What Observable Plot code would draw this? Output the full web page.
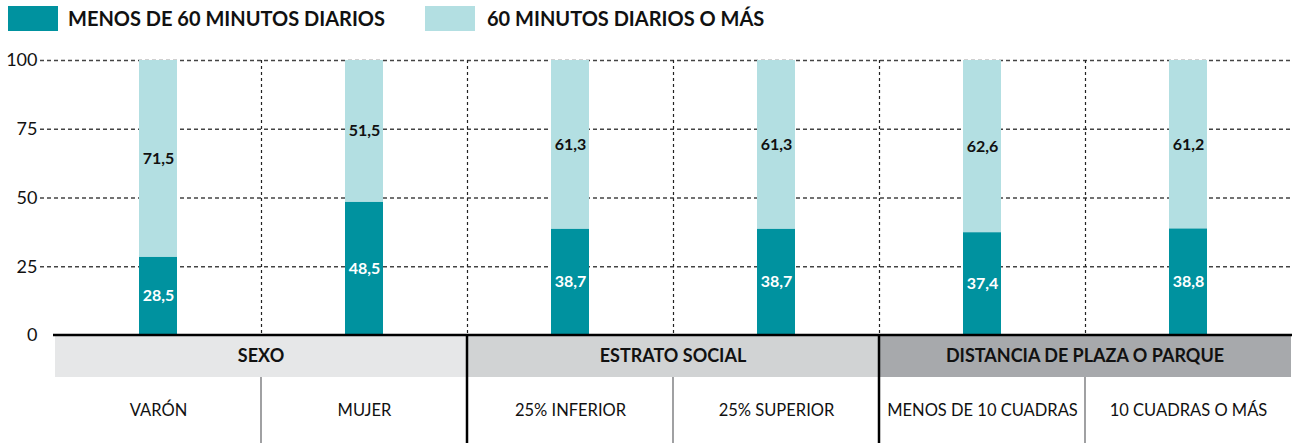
<!DOCTYPE html>
<html>
<head>
<meta charset="utf-8">
<script src="https://cdn.jsdelivr.net/npm/d3@7"></script>
<script src="https://cdn.jsdelivr.net/npm/@observablehq/plot@0.6"></script>
<style>
  html, body { margin: 0; padding: 0; background: #fff; }
  body { width: 1292px; height: 443px; overflow: hidden; font-family: Lato, "Open Sans", sans-serif; }
  #legend { position: relative; height: 40px; }
  .sw { position: absolute; top: 6px; width: 50px; height: 25px; }
  .lt { position: absolute; top: 6px; font-size: 20px; font-weight: 700; color: #111; line-height: 25px; white-space: nowrap; }
  #chart svg { display: block; }
</style>
</head>
<body>
<div id="legend"></div>
<div id="chart"></div>
<script>
// ---- data ----
const categories = ["VARÓN", "MUJER", "25% INFERIOR", "25% SUPERIOR", "MENOS DE 10 CUADRAS", "10 CUADRAS O MÁS"];
const groups = ["SEXO", "SEXO", "ESTRATO SOCIAL", "ESTRATO SOCIAL", "DISTANCIA DE PLAZA O PARQUE", "DISTANCIA DE PLAZA O PARQUE"];
const series = ["MENOS DE 60 MINUTOS DIARIOS", "60 MINUTOS DIARIOS O MÁS"];
const menos60 = [28.5, 48.5, 38.7, 38.7, 37.4, 38.8];
const mas60 = [71.5, 51.5, 61.3, 61.3, 62.6, 61.2];
const yTicks = [0, 25, 50, 75, 100];

const seriesColors = ["#00929f", "#b3dfe2"];
const groupColors = {"SEXO": "#e6e7e8", "ESTRATO SOCIAL": "#d1d3d4", "DISTANCIA DE PLAZA O PARQUE": "#a7a9ac"};

// ---- legend ----
const legend = document.getElementById("legend");
const legendPos = [[8, 68], [425, 487]];
series.forEach((s, i) => {
  const sw = document.createElement("div");
  sw.className = "sw"; sw.style.left = legendPos[i][0] + "px"; sw.style.background = seriesColors[i];
  const t = document.createElement("div");
  t.className = "lt"; t.style.left = legendPos[i][1] + "px"; t.textContent = s;
  legend.append(sw, t);
});

// ---- table ----
const data = [];
categories.forEach((c, i) => {
  data.push({cat: c, group: groups[i], serie: series[0], value: menos60[i]});
  data.push({cat: c, group: groups[i], serie: series[1], value: mas60[i]});
});
const fmt = v => v.toFixed(1).replace(".", ",");

const W = 1292, H = 403, mL = 53, mR = 0, mT = 20, mB = 108;
const headerH = 42;
const NS = "http://www.w3.org/2000/svg";
function el(name, attrs) {
  const e = document.createElementNS(NS, name);
  for (const k in attrs) e.setAttribute(k, attrs[k]);
  return e;
}
function bandInfo(scales) {
  const x = scales.x;
  const bw = x(categories[1]) - x(categories[0]);
  return {x, bw};
}

// vertical dashed grid lines at category boundaries
const vGrid = (index, scales, values, dims) => {
  const {x} = bandInfo(scales);
  const g = el("g", {});
  const top = dims.marginTop, bottom = dims.height - dims.marginBottom;
  categories.slice(1).forEach(c => {
    const px = Math.round(x(c)) + 0.5;
    g.append(el("line", {x1: px, x2: px, y1: top, y2: bottom, stroke: "#222", "stroke-width": 1.2, "stroke-dasharray": "3,3"}));
  });
  return g;
};

// bottom header band, separators and baseline
const bottomTable = (index, scales, values, dims) => {
  const {x, bw} = bandInfo(scales);
  const g = el("g", {});
  const base = dims.height - dims.marginBottom;
  const uniq = [...new Set(groups)];
  uniq.forEach(gr => {
    const cats = categories.filter((c, i) => groups[i] === gr);
    const x0 = x(cats[0]), x1 = x(cats[cats.length - 1]) + bw;
    g.append(el("rect", {x: x0, y: base, width: x1 - x0, height: headerH, fill: groupColors[gr]}));
    const t = el("text", {x: (x0 + x1) / 2, y: base + headerH / 2 + 1, "text-anchor": "middle", "dominant-baseline": "middle",
      "font-size": 18, "font-weight": 700, fill: "#111", "font-family": "Lato, 'Open Sans', sans-serif"});
    t.textContent = gr;
    g.append(t);
  });
  categories.forEach((c, i) => {
    if (i === 0) return;
    const px = x(c);
    if (groups[i] !== groups[i - 1]) {
      g.append(el("line", {x1: px, x2: px, y1: base, y2: dims.height, stroke: "#000", "stroke-width": 2.5}));
    } else {
      g.append(el("line", {x1: px, x2: px, y1: base + headerH, y2: dims.height, stroke: "#6d6e71", "stroke-width": 1.3}));
    }
  });
  g.append(el("line", {x1: dims.marginLeft, x2: dims.width - dims.marginRight, y1: base, y2: base, stroke: "#000", "stroke-width": 2.5}));
  return g;
};

const chart = Plot.plot({
  width: W, height: H,
  marginLeft: mL, marginRight: mR, marginTop: mT, marginBottom: mB,
  style: {fontFamily: "Lato, 'Open Sans', sans-serif", fontSize: "16px", color: "#111", background: "#fff"},
  x: {type: "band", domain: categories, padding: 0, label: null},
  y: {domain: [0, 100], label: null},
  color: {domain: series, range: seriesColors},
  marks: [
    Plot.ruleY(yTicks.filter(d => d > 0), {stroke: "#444", strokeWidth: 1.3, strokeDasharray: "4,3", insetLeft: -13}),
    vGrid,
    Plot.barY(data, {x: "cat", y: "value", fill: "serie", insetLeft: 84, insetRight: 84}),
    Plot.text(data, Plot.stackY({x: "cat", y: "value", z: "serie", text: d => fmt(d.value),
      fill: d => d.serie === series[0] ? "#ffffff" : "#111111",
      fontSize: 16, fontWeight: 700})),
    Plot.axisY({ticks: yTicks, tickSize: 0, tickPadding: 16, fontSize: 18, label: null}),
    Plot.axisX({tickSize: 0, tickPadding: 69, fontSize: 16.5, fontWeight: 400, label: null}),
    bottomTable
  ]
});
document.getElementById("chart").append(chart);
</script>
</body>
</html>
